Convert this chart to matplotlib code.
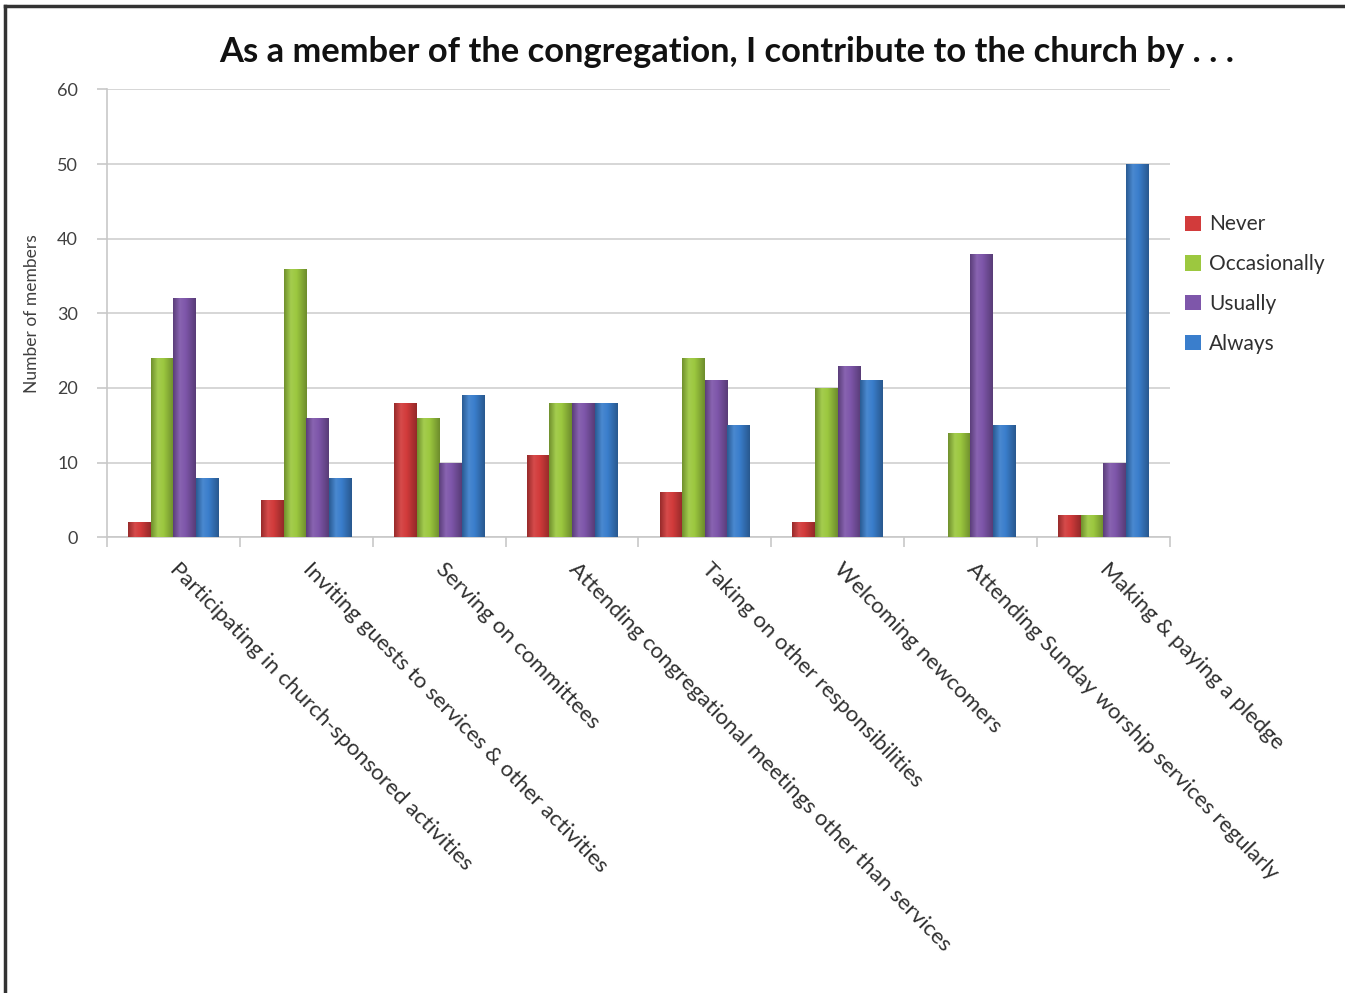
import numpy as np
import matplotlib.pyplot as plt
from matplotlib.lines import Line2D
from matplotlib.colors import LinearSegmentedColormap, to_rgb

plt.rcParams['font.family'] = ['Lato', 'DejaVu Sans']

categories = ['Participating in church-sponsored activities',
              'Inviting guests to services & other activities',
              'Serving on committees',
              'Attending congregational meetings other than services',
              'Taking on other responsibilities',
              'Welcoming newcomers',
              'Attending Sunday worship services regularly',
              'Making & paying a pledge']
series_names = ['Never', 'Occasionally', 'Usually', 'Always']
never = [2, 5, 18, 11, 6, 2, 0, 3]
occasionally = [24, 36, 16, 18, 24, 20, 14, 3]
usually = [32, 16, 10, 18, 21, 23, 38, 10]
always = [8, 8, 19, 18, 15, 21, 15, 50]
yticks = [0, 10, 20, 30, 40, 50, 60]

colors = ['#D23B3B', '#9CC83F', '#7E56AA', '#3A7ECC']


def shade(c, f):
    r, g, b = to_rgb(c)
    if f < 1:
        return (r * f, g * f, b * f)
    return tuple(v + (1 - v) * (f - 1) for v in (r, g, b))


fig = plt.figure(figsize=(13.45, 9.93), dpi=100)
ax = fig.add_axes([0.0796, 0.459, 0.790, 0.451])

x = np.arange(len(categories))
w = 0.17
grad = np.linspace(0, 1, 64).reshape(1, -1)
for i, (vals, name) in enumerate(zip([never, occasionally, usually, always], series_names)):
    bars = ax.bar(x + (i - 1.5) * w, vals, w, color=colors[i], edgecolor='none',
                  label=name, zorder=3)
    # cylinder-like shading across each bar
    cmap = LinearSegmentedColormap.from_list(
        name, [(0, shade(colors[i], 0.72)), (0.3, shade(colors[i], 1.08)),
               (0.55, colors[i]), (1, shade(colors[i], 0.7))])
    for b in bars:
        if b.get_height() <= 0:
            continue
        x0, y0 = b.get_x(), b.get_y()
        im = ax.imshow(grad, cmap=cmap, aspect='auto', zorder=4,
                       extent=(x0, x0 + b.get_width(), y0, y0 + b.get_height()))
        im.set_clip_path(b)

ax.set_xlim(-0.5, len(categories) - 0.5)
ax.set_ylim(0, 60)
ax.set_yticks(yticks)
ax.yaxis.grid(True, color='#D0D0D0', linewidth=1.2, zorder=0)
ax.tick_params(axis='y', labelsize=13, colors='#404040', length=7, width=1.2,
               pad=14, color='#C8C8C8')
for s in ['top', 'right']:
    ax.spines[s].set_visible(False)
for s in ['left', 'bottom']:
    ax.spines[s].set_color('#C8C8C8')
    ax.spines[s].set_linewidth(1.2)

# ticks at group boundaries, labels at group centres
ax.set_xticks(np.arange(len(categories) + 1) - 0.5)
ax.set_xticklabels([])
ax.tick_params(axis='x', length=7, width=1.2, color='#C8C8C8')
for xi, lab in zip(x, categories):
    ax.text(xi, -3.8, lab, rotation=-45.5, rotation_mode='anchor', ha='left', va='center',
            fontsize=16, color='#303030')

ax.set_ylabel('Number of members', fontsize=12.5, color='#404040', labelpad=12)
fig.text(0.54, 0.948, 'As a member of the congregation, I contribute to the church by . . .',
         ha='center', va='center', fontsize=24.8, fontweight='bold', color='#111111')

leg = ax.legend(loc='center left', bbox_to_anchor=(0.997, 0.565), frameon=False,
                fontsize=15, handlelength=0.75, handleheight=0.75, handletextpad=0.4,
                labelspacing=0.95)
for t in leg.get_texts():
    t.set_color('#303030')

# image border on top and left
fig.add_artist(Line2D([0.0037, 1], [0.9935, 0.9935], color='#333333', linewidth=2.5,
                      transform=fig.transFigure))
fig.add_artist(Line2D([0.0037, 0.0037], [0, 0.9935], color='#333333', linewidth=2.5,
                      transform=fig.transFigure))

fig.savefig('out.png', dpi=100)
